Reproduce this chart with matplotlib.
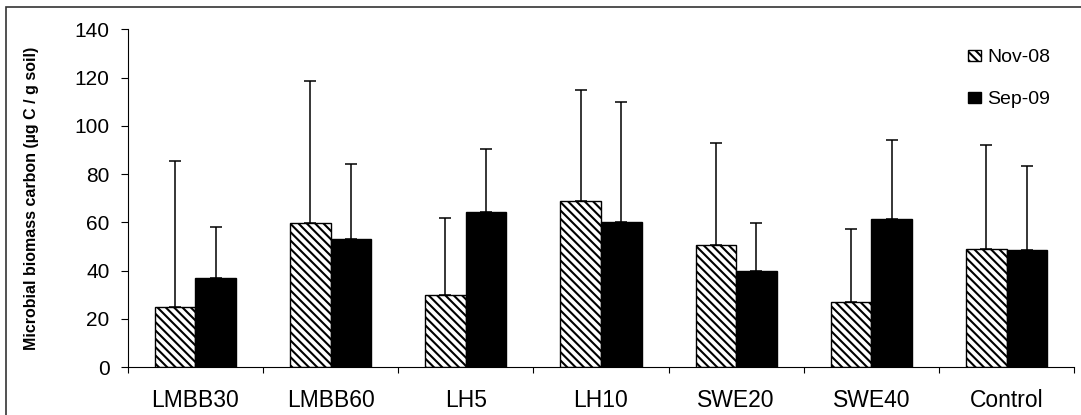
import matplotlib
matplotlib.use('Agg')
import matplotlib.pyplot as plt
import numpy as np
from matplotlib.patches import Rectangle

plt.rcParams['font.family'] = 'Liberation Sans'
plt.rcParams['hatch.linewidth'] = 1.5

# microbial biomass carbon (ug C / g soil)
sites = ['LMBB30', 'LMBB60', 'LH5', 'LH10', 'SWE20', 'SWE40', 'Control']
nov08 = [24.8, 59.6, 29.7, 68.8, 50.7, 26.8, 49.0]
sep09 = [37.0, 53.2, 64.3, 60.2, 39.7, 61.4, 48.5]
# top of each error bar
nov08_top = [85.2, 118.6, 61.9, 115.0, 92.9, 57.1, 92.2]
sep09_top = [57.9, 84.0, 90.5, 109.9, 59.6, 94.1, 83.5]

nov08 = np.array(nov08)
sep09 = np.array(sep09)
nov_err = np.array(nov08_top) - nov08
sep_err = np.array(sep09_top) - sep09

x = np.arange(len(sites))
w = 0.3

fig = plt.figure(figsize=(10.81, 4.15), dpi=100)
ax = fig.add_axes([127.7 / 1081, 48 / 415, 946.5 / 1081, 337.7 / 415])

ax.bar(x - w / 2, nov08, w, color='white', edgecolor='black', linewidth=1.0,
       hatch='\\\\\\\\', label='Nov-08', zorder=2)
ax.bar(x + w / 2, sep09, w, color='black', edgecolor='black', linewidth=1.0,
       label='Sep-09', zorder=2)

# upper error bars only
ax.errorbar(x - w / 2, nov08, yerr=[np.zeros(len(x)), nov_err], fmt='none',
            ecolor='black', elinewidth=1.1, capsize=4.3, capthick=1.1, zorder=1)
ax.errorbar(x + w / 2, sep09, yerr=[np.zeros(len(x)), sep_err], fmt='none',
            ecolor='black', elinewidth=1.1, capsize=4.3, capthick=1.1, zorder=1)

ax.set_xlim(-0.5, len(sites) - 0.5)
ax.set_ylim(0, 140)
ax.set_yticks(np.arange(0, 141, 20))
ax.tick_params(axis='y', direction='out', length=5, width=0.8, pad=8, labelsize=15)

# ticks between groups, labels at group centres
ax.set_xticks(np.arange(-0.5, len(sites), 1.0))
ax.set_xticklabels([])
ax.set_xticks(x, minor=True)
ax.set_xticklabels(sites, minor=True, fontsize=16.5)
ax.tick_params(axis='x', which='major', direction='out', length=4.5, width=0.8)
ax.tick_params(axis='x', which='minor', length=0, pad=16)

for s in ['top', 'right']:
    ax.spines[s].set_visible(False)
for s in ['left', 'bottom']:
    ax.spines[s].set_linewidth(0.8)

ax.set_ylabel('Microbial biomass carbon (µg C / g soil)', fontsize=11.5,
              fontweight='bold')
ax.yaxis.set_label_coords(-0.094, 0.5)

ax.legend(loc='upper left', bbox_to_anchor=(968 / 1081, 1 - 49 / 415),
          bbox_transform=fig.transFigure, frameon=False, fontsize=14,
          handlelength=0.65, handleheight=0.5, handletextpad=0.35,
          labelspacing=1.3, borderpad=0, borderaxespad=0)

# outer frame around the picture
fig.patches.append(Rectangle((6 / 1081, -0.1), 1.2, 1.1 - 7 / 415,
                             transform=fig.transFigure, fill=False,
                             edgecolor='#333333', linewidth=1.2))

fig.savefig('out.png', dpi=100)
